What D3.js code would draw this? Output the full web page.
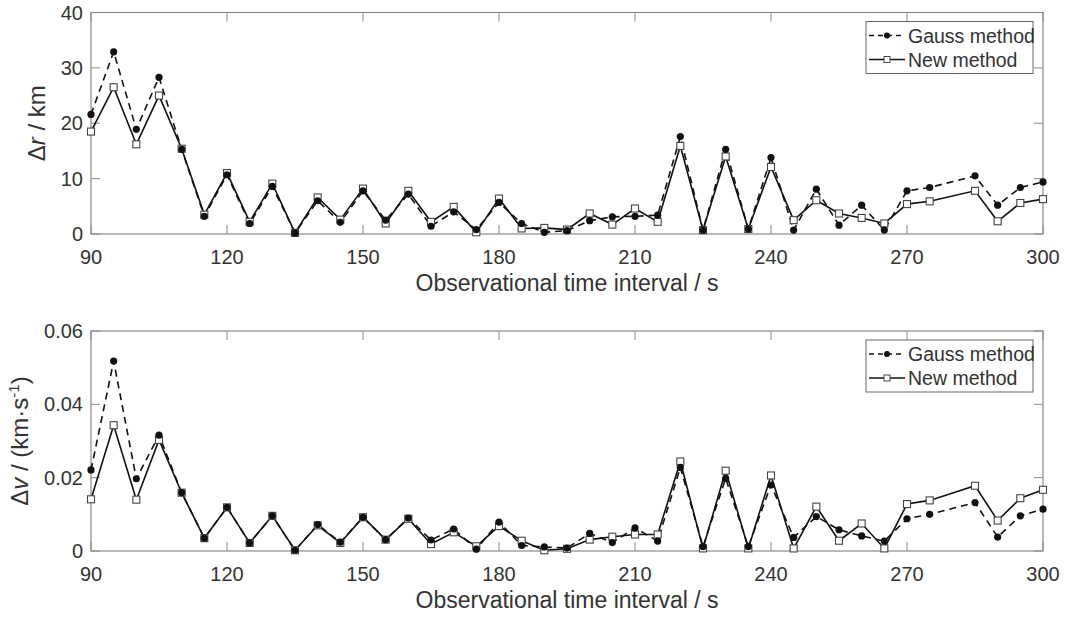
<!DOCTYPE html>
<html>
<head>
<meta charset="utf-8">
<script src="https://cdn.jsdelivr.net/npm/d3@7"></script>
<style>
  body { margin: 0; background: #fff; }
  text { font-family: "Liberation Sans", Arial, sans-serif; fill: #333; }
</style>
</head>
<body>
<div id="chart-area"></div>
<script>
// observation intervals (s) - no point at 280
var intervals = [90, 95, 100, 105, 110, 115, 120, 125, 130, 135, 140, 145, 150, 155, 160,
  165, 170, 175, 180, 185, 190, 195, 200, 205, 210, 215, 220, 225, 230, 235, 240,
  245, 250, 255, 260, 265, 270, 275, 285, 290, 295, 300];

// position error (km)
var gaussR = [21.6, 32.9, 18.9, 28.3, 15.3, 3.2, 10.7, 1.9, 8.6, 0.2, 6.0, 2.1, 7.8, 2.5, 7.2,
  1.4, 4.0, 0.8, 5.7, 1.9, 0.3, 0.6, 2.4, 3.1, 3.2, 3.4, 17.6, 0.7, 15.3, 0.9, 13.8,
  0.7, 8.1, 1.6, 5.2, 0.7, 7.8, 8.4, 10.5, 5.2, 8.4, 9.4];
var newR = [18.5, 26.5, 16.2, 25.0, 15.4, 3.5, 11.0, 2.2, 9.1, 0.2, 6.6, 2.6, 8.2, 1.9, 7.8,
  2.2, 4.9, 0.3, 6.4, 1.0, 1.1, 0.8, 3.7, 1.7, 4.6, 2.2, 15.9, 0.7, 14.0, 0.9, 12.1,
  2.5, 6.1, 3.7, 2.9, 1.9, 5.4, 5.9, 7.8, 2.3, 5.6, 6.3];

// velocity error (km/s)
var gaussV = [0.0221, 0.0518, 0.0197, 0.0316, 0.0159, 0.0035, 0.0119, 0.0022, 0.0096, 0.0002,
  0.0072, 0.0024, 0.0092, 0.0031, 0.0090, 0.0030, 0.0060, 0.0005, 0.0079, 0.0015, 0.0011,
  0.0008, 0.0048, 0.0023, 0.0063, 0.0027, 0.0228, 0.0012, 0.0198, 0.0012, 0.0180, 0.0037,
  0.0094, 0.0058, 0.0041, 0.0027, 0.0088, 0.0100, 0.0132, 0.0038, 0.0096, 0.0114];
var newV = [0.0141, 0.0343, 0.0140, 0.0303, 0.0159, 0.0035, 0.0119, 0.0022, 0.0096, 0.0002,
  0.0070, 0.0022, 0.0092, 0.0031, 0.0088, 0.0019, 0.0051, 0.0013, 0.0068, 0.0028, 0.0002,
  0.0006, 0.0031, 0.0039, 0.0045, 0.0045, 0.0244, 0.0007, 0.0219, 0.0007, 0.0206, 0.0007,
  0.0121, 0.0028, 0.0075, 0.0007, 0.0128, 0.0138, 0.0178, 0.0083, 0.0144, 0.0167];

var xTicks = [90, 120, 150, 180, 210, 240, 270, 300];
var rTicks = [0, 10, 20, 30, 40];
var vTicks = [0, 0.02, 0.04, 0.06];
var seriesNames = ["Gauss method", "New method"];

var svg = d3.select("#chart-area")
  .append("svg")
  .attr("width", 1066)
  .attr("height", 621);

var axisColor = "#8a8a8a";

function panel(top, bottom, yMax, yTicks, gaussVals, newVals, tickFmt, yLabelFn, yLabelX) {
  var left = 91, right = 1043;
  var x = d3.scaleLinear().domain([90, 300]).range([left, right]);
  var y = d3.scaleLinear().domain([0, yMax]).range([bottom, top]);

  var g = svg.append("g");

  // box
  g.append("rect")
    .attr("x", left).attr("y", top)
    .attr("width", right - left).attr("height", bottom - top)
    .attr("fill", "none").attr("stroke", axisColor).attr("stroke-width", 1.2);

  // inward ticks on all four sides
  var tl = 9;
  xTicks.forEach(t => {
    g.append("line").attr("x1", x(t)).attr("x2", x(t)).attr("y1", bottom).attr("y2", bottom - tl)
      .attr("stroke", axisColor);
    g.append("line").attr("x1", x(t)).attr("x2", x(t)).attr("y1", top).attr("y2", top + tl)
      .attr("stroke", axisColor);
    g.append("text").attr("x", x(t)).attr("y", bottom + 30)
      .attr("text-anchor", "middle").attr("font-size", "20px").text(t);
  });
  yTicks.forEach(t => {
    g.append("line").attr("x1", left).attr("x2", left + tl).attr("y1", y(t)).attr("y2", y(t))
      .attr("stroke", axisColor);
    g.append("line").attr("x1", right).attr("x2", right - tl).attr("y1", y(t)).attr("y2", y(t))
      .attr("stroke", axisColor);
    g.append("text").attr("x", left - 8).attr("y", y(t) + 7)
      .attr("text-anchor", "end").attr("font-size", "20px").text(tickFmt(t));
  });

  // x label
  g.append("text").attr("x", 567).attr("y", bottom + 57)
    .attr("text-anchor", "middle").attr("font-size", "23px")
    .text("Observational time interval / s");

  // y label
  var yl = g.append("text")
    .attr("transform", "translate(" + yLabelX + "," + ((top + bottom) / 2) + ") rotate(-90)")
    .attr("text-anchor", "middle").attr("font-size", "24px");
  yLabelFn(yl);

  var gaussData = intervals.map((d, i) => [d, gaussVals[i]]);
  var newData = intervals.map((d, i) => [d, newVals[i]]);
  var line = d3.line().x(d => x(d[0])).y(d => y(d[1]));

  g.append("path").datum(newData).attr("d", line)
    .attr("fill", "none").attr("stroke", "#111").attr("stroke-width", 1.6);
  g.append("path").datum(gaussData).attr("d", line)
    .attr("fill", "none").attr("stroke", "#111").attr("stroke-width", 1.6)
    .attr("stroke-dasharray", "7,5");

  g.selectAll(".sq").data(newData).enter().append("rect")
    .attr("x", d => x(d[0]) - 3.5).attr("y", d => y(d[1]) - 3.5)
    .attr("width", 7).attr("height", 7)
    .attr("fill", "#fff").attr("stroke", "#444").attr("stroke-width", 1.1);
  g.selectAll(".dot").data(gaussData).enter().append("circle")
    .attr("cx", d => x(d[0])).attr("cy", d => y(d[1])).attr("r", 3.6)
    .attr("fill", "#111");

  // legend
  var lx = 866, ly = top + 9;
  g.append("rect").attr("x", lx).attr("y", ly).attr("width", 167).attr("height", 52)
    .attr("fill", "#fff").attr("stroke", "#666").attr("stroke-width", 1);
  seriesNames.forEach((name, i) => {
    var cy = ly + 14 + i * 24;
    g.append("line").attr("x1", lx + 3).attr("x2", lx + 39).attr("y1", cy).attr("y2", cy)
      .attr("stroke", "#111").attr("stroke-width", 1.4)
      .attr("stroke-dasharray", i === 0 ? "5,4" : null);
    if (i === 0) {
      g.append("circle").attr("cx", lx + 21).attr("cy", cy).attr("r", 3).attr("fill", "#111");
    } else {
      g.append("rect").attr("x", lx + 18).attr("y", cy - 3).attr("width", 6).attr("height", 6)
        .attr("fill", "#fff").attr("stroke", "#444");
    }
    g.append("text").attr("x", lx + 42).attr("y", cy + 7)
      .attr("font-size", "19.5px").text(name);
  });
}

panel(12.5, 234, 40, rTicks, gaussR, newR, d => d, t => {
  t.append("tspan").text("\u0394");
  t.append("tspan").attr("font-style", "italic").text("r");
  t.append("tspan").text(" / km");
}, 45);

panel(331, 551, 0.06, vTicks, gaussV, newV, d => d === 0 ? "0" : d.toFixed(2), t => {
  t.append("tspan").text("\u0394");
  t.append("tspan").attr("font-style", "italic").text("v");
  t.append("tspan").text(" / (km\u00b7s");
  t.append("tspan").attr("dy", -9).attr("font-size", "15px").text("-1");
  t.append("tspan").attr("dy", 9).text(")");
}, 28);
</script>
</body>
</html>
